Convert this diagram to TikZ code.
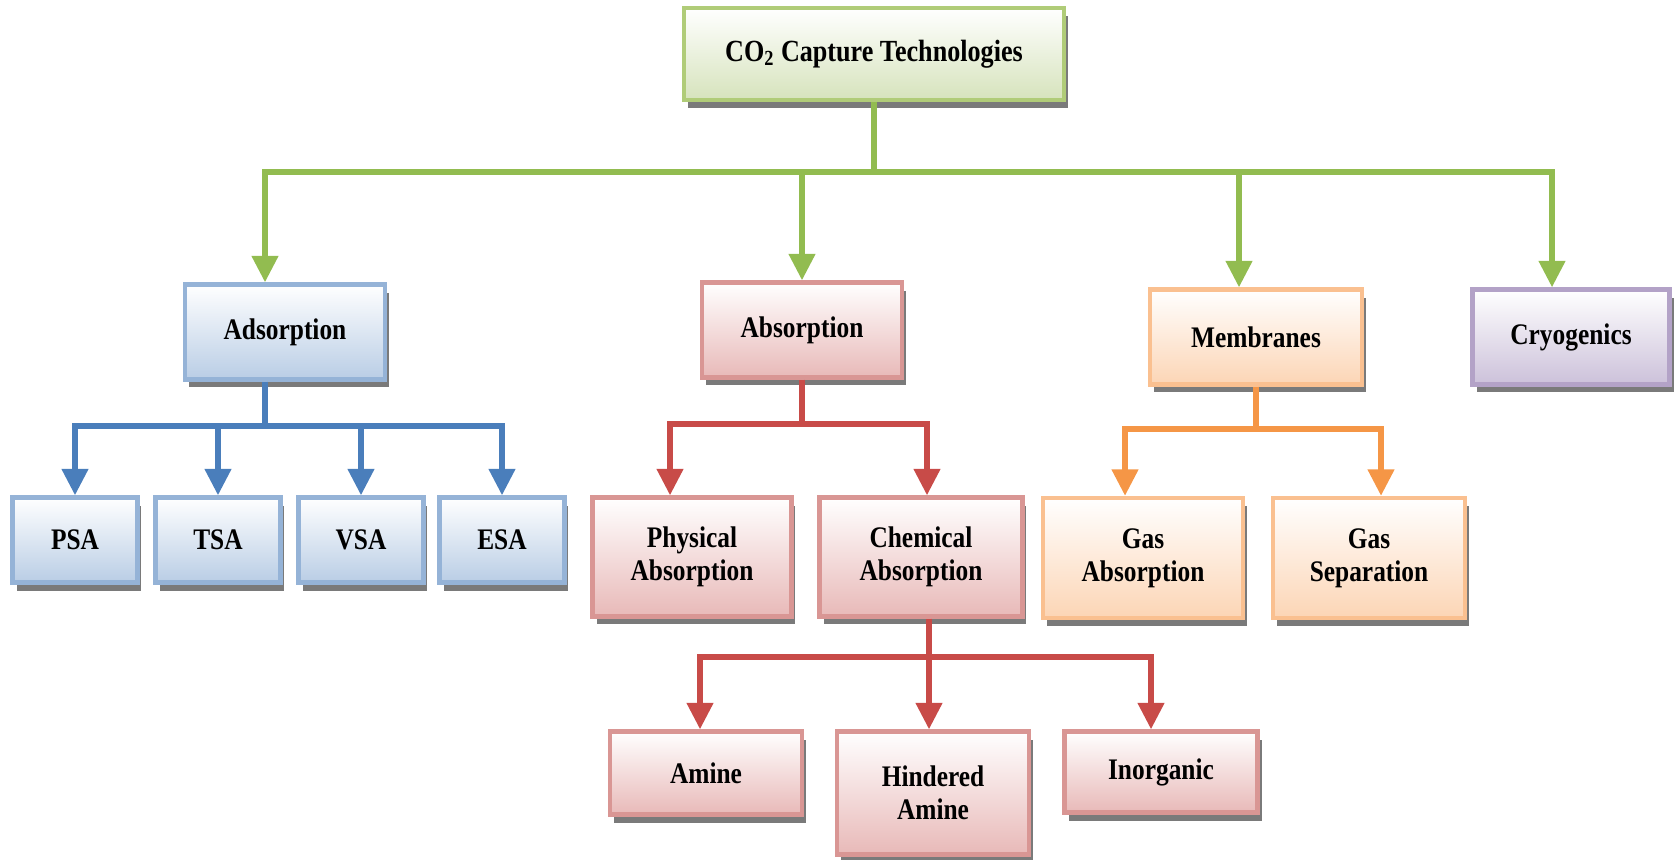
\documentclass[tikz,border=0pt]{standalone}
\usepackage{fontspec}
\setmainfont{Liberation Serif}[FakeStretch=0.85]
\usetikzlibrary{positioning, arrows.meta, shadows, calc}
\definecolor{gLine}{RGB}{146,188,80}
\definecolor{gEdge}{RGB}{176,204,120}
\definecolor{gFill}{RGB}{214,227,188}
\definecolor{bLine}{RGB}{74,126,187}
\definecolor{bEdge}{RGB}{149,179,215}
\definecolor{bFill}{RGB}{185,205,229}
\definecolor{rLine}{RGB}{200,75,72}
\definecolor{rEdge}{RGB}{217,150,148}
\definecolor{rFill}{RGB}{232,185,184}
\definecolor{oLine}{RGB}{245,150,70}
\definecolor{oEdge}{RGB}{250,192,144}
\definecolor{oFill}{RGB}{252,213,181}
\definecolor{pEdge}{RGB}{179,162,199}
\definecolor{pFill}{RGB}{204,193,218}

\begin{document}
\begin{tikzpicture}[
  x=0.02cm, y=-0.02cm,
  box/.style={draw, line width=2.5pt, align=center, inner sep=0pt,
    font=\fontsize{17}{19}\selectfont\bfseries,
    drop shadow={shadow xshift=0.08cm, shadow yshift=-0.16cm, fill=black!65, opacity=0.8}},
  gbox/.style={box, draw=gEdge, top color=white, bottom color=gFill},
  bbox/.style={box, draw=bEdge, top color=white, bottom color=bFill},
  rbox/.style={box, draw=rEdge, top color=white, bottom color=rFill},
  obox/.style={box, draw=oEdge, top color=white, bottom color=oFill},
  pbox/.style={box, draw=pEdge, top color=white, bottom color=pFill},
  tip/.style={-{Triangle[length=15pt, width=14.5pt]}},
  gline/.style={draw=gLine, line width=3.2pt},
  bline/.style={draw=bLine, line width=3.2pt},
  rline/.style={draw=rLine, line width=3.2pt},
  oline/.style={draw=oLine, line width=3.2pt},
]
  \useasboundingbox (0,0) rectangle (1675,859);

  % top level
  \node[gbox, minimum width=7.6cm, minimum height=1.84cm,
        font=\fontsize{17.5}{20}\selectfont\bfseries] (top) at (874,54)
    {CO\textsubscript{2} Capture Technologies};

  % second level
  \node[bbox, minimum width=4cm,    minimum height=1.9cm] (ads) at (285,332) {Adsorption};
  \node[rbox, minimum width=4cm,    minimum height=1.9cm] (abs) at (802,330) {Absorption};
  \node[obox, minimum width=4.24cm, minimum height=1.9cm] (mem) at (1256,337) {Membranes};
  \node[pbox, minimum width=3.94cm, minimum height=1.9cm] (cry) at (1571,337) {Cryogenics};

  % adsorption branch
  \node[bbox, minimum width=2.5cm, minimum height=1.7cm] (psa) at (75,540)  {PSA};
  \node[bbox, minimum width=2.5cm, minimum height=1.7cm] (tsa) at (218,540) {TSA};
  \node[bbox, minimum width=2.5cm, minimum height=1.7cm] (vsa) at (361,540) {VSA};
  \node[bbox, minimum width=2.5cm, minimum height=1.7cm] (esa) at (502,540) {ESA};

  % absorption branch
  \node[rbox, minimum width=3.98cm, minimum height=2.38cm] (phys) at (692,557) {Physical\\Absorption};
  \node[rbox, minimum width=4.06cm, minimum height=2.38cm] (chem) at (921,557) {Chemical\\Absorption};
  \node[rbox, minimum width=3.84cm, minimum height=1.66cm] (amine) at (706,773) {Amine};
  \node[rbox, minimum width=3.84cm, minimum height=2.46cm] (hind)  at (933,793) {Hindered\\Amine};
  \node[rbox, minimum width=3.86cm, minimum height=1.62cm] (inorg) at (1161,772) {Inorganic};

  % membrane branch
  \node[obox, minimum width=4cm,    minimum height=2.4cm] (gabs) at (1143,558) {Gas\\Absorption};
  \node[obox, minimum width=3.84cm, minimum height=2.4cm] (gsep) at (1369,558) {Gas\\Separation};

  % connectors
  \draw[gline] (top.south) -- ++(0,70) coordinate (gj);
  \draw[gline, tip] (gj) -| ([xshift=-0.4cm]ads.north);
  \draw[gline, tip] (gj) -| (abs.north);
  \draw[gline, tip] (gj) -| ([xshift=-0.34cm]mem.north);
  \draw[gline, tip] (gj) -| ([xshift=-0.38cm]cry.north);

  \draw[bline] ([xshift=-0.4cm]ads.south) -- ++(0,44) coordinate (bj);
  \foreach \n in {psa, tsa, vsa, esa}
    \draw[bline, tip] (bj) -| (\n.north);

  \draw[rline] (abs.south) -- ++(0,44) coordinate (rj);
  \draw[rline, tip] (rj) -| ([xshift=-0.44cm]phys.north);
  \draw[rline, tip] (rj) -| ([xshift=0.12cm]chem.north);
  \draw[rline] ([xshift=0.16cm]chem.south) -- ++(0,38) coordinate (cj);
  \draw[rline, tip] (cj) -| ([xshift=-0.12cm]amine.north);
  \draw[rline, tip] (cj) -| ([xshift=-0.08cm]hind.north);
  \draw[rline, tip] (cj) -| ([xshift=-0.2cm]inorg.north);

  \draw[oline] (mem.south) -- ++(0,42) coordinate (oj);
  \draw[oline, tip] (oj) -| ([xshift=-0.36cm]gabs.north);
  \draw[oline, tip] (oj) -| ([xshift=0.24cm]gsep.north);
\end{tikzpicture}
\end{document}
